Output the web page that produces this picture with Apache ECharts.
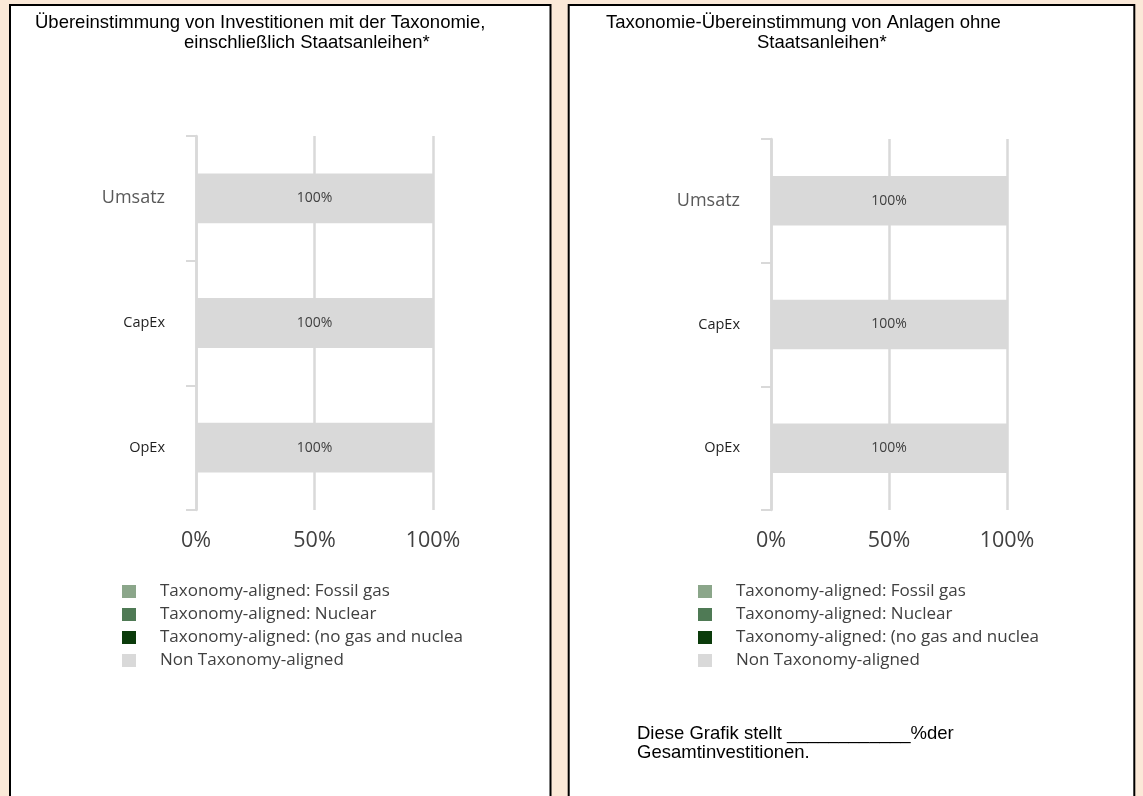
<!DOCTYPE html>
<html>
<head>
<meta charset="utf-8">
<script src="https://cdn.jsdelivr.net/npm/echarts@6/dist/echarts.min.js"></script>
<style>
html,body{margin:0;padding:0;background:#FBE9D8;}
#chart{width:1143px;height:796px;}
</style>
</head>
<body>
<div id="chart"></div>
<script>
// ---- data ----
const categories = ['Umsatz', 'CapEx', 'OpEx'];
const seriesNames = [
  'Taxonomy-aligned: Fossil gas',
  'Taxonomy-aligned: Nuclear',
  'Taxonomy-aligned: (no gas and nuclear)',
  'Non Taxonomy-aligned'
];
// chart 1: including sovereign bonds
const fossilGasIncl = [0, 0, 0];
const nuclearIncl = [0, 0, 0];
const otherAlignedIncl = [0, 0, 0];
const nonAlignedIncl = [100, 100, 100];
// chart 2: excluding sovereign bonds
const fossilGasExcl = [0, 0, 0];
const nuclearExcl = [0, 0, 0];
const otherAlignedExcl = [0, 0, 0];
const nonAlignedExcl = [100, 100, 100];
const xTickValues = [0, 50, 100];
const title1 = ['Übereinstimmung von Investitionen mit der Taxonomie,', 'einschließlich Staatsanleihen*'];
const title2 = ['Taxonomie-Übereinstimmung von Anlagen ohne', 'Staatsanleihen*'];
const footnote = ['Diese Grafik stellt ____________%der', 'Gesamtinvestitionen.'];

// ---- styles ----
const colors = ['#8BA68A', '#4F7A55', '#0B3B0B', '#D9D9D9'];
const gridCol = '#D9D9D9';
const FONT = '"Open Sans", sans-serif';
const ARIAL = '"Liberation Sans", Arial, sans-serif';

const chart = echarts.init(document.getElementById('chart'));

function makeX(gi) {
  return {
    type: 'value', gridIndex: gi, min: xTickValues[0], max: xTickValues[xTickValues.length - 1],
    interval: xTickValues[1] - xTickValues[0],
    axisLine: { show: false }, axisTick: { show: false },
    splitLine: { show: true, lineStyle: { color: gridCol, width: 2.5 } },
    axisLabel: { formatter: '{value}%', fontSize: 21.5, color: '#404040', fontFamily: FONT, margin: 20 }
  };
}
function makeY(gi) {
  return {
    type: 'category', gridIndex: gi, data: categories, inverse: true,
    axisLine: { show: true, lineStyle: { color: gridCol, width: 2.5 } },
    axisTick: { show: true, length: 10, lineStyle: { color: gridCol, width: 2 } },
    axisLabel: {
      margin: 31,
      formatter: function (v, i) { return i === 0 ? '{u|' + v + '}' : '{c|' + v + '}'; },
      rich: {
        u: { fontSize: 18, color: '#595959', fontFamily: FONT },
        c: { fontSize: 14.5, color: '#1f1f1f', fontFamily: FONT }
      }
    }
  };
}
function makeSeries(gi, arrays) {
  return arrays.map(function (arr, k) {
    return {
      name: seriesNames[k], type: 'bar', stack: 's' + gi, xAxisIndex: gi, yAxisIndex: gi,
      data: arr, barWidth: '40%',
      itemStyle: { color: colors[k] },
      label: k === 3 ? { show: true, position: 'inside', formatter: '{c}%', fontSize: 14, color: '#404040', fontFamily: FONT } : { show: false }
    };
  });
}
function makeLegend(left) {
  return {
    orient: 'vertical', left: left, top: 583, padding: 0, itemWidth: 14, itemHeight: 13, itemGap: 6,
    icon: 'rect', data: seriesNames, selectedMode: false,
    textStyle: { fontSize: 17, lineHeight: 17, color: '#404040', fontFamily: FONT,
      padding: [0, 0, 0, 19], width: 308, overflow: 'truncate', ellipsis: '' }
  };
}
function textLines(lines, xs, y0, gap) {
  return lines.map(function (t, i) {
    return { type: 'text', z: -5, style: { text: t, x: xs[i], y: y0 + i * gap, textAlign: 'left', textVerticalAlign: 'middle', fontSize: 18.5, fontFamily: ARIAL, fill: '#000' } };
  });
}

const option = {
  backgroundColor: '#FBE9D8',
  animation: false,
  grid: [
    { left: 196, top: 136, width: 237, height: 374 },
    { left: 771, top: 139, width: 236, height: 371 }
  ],
  xAxis: [makeX(0), makeX(1)],
  yAxis: [makeY(0), makeY(1)],
  legend: [makeLegend(122), makeLegend(698)],
  series: makeSeries(0, [fossilGasIncl, nuclearIncl, otherAlignedIncl, nonAlignedIncl])
    .concat(makeSeries(1, [fossilGasExcl, nuclearExcl, otherAlignedExcl, nonAlignedExcl])),
  graphic: [
    { type: 'rect', z: -10, shape: { x: 10, y: 5, width: 540.5, height: 900 }, style: { fill: '#fff', stroke: '#000', lineWidth: 2 } },
    { type: 'rect', z: -10, shape: { x: 568.7, y: 5, width: 565.6, height: 900 }, style: { fill: '#fff', stroke: '#000', lineWidth: 2 } }
  ].concat(
    textLines(title1, [35, 184], 23, 20),
    textLines(title2, [606, 757], 23, 20),
    textLines(footnote, [637, 637], 734, 19)
  )
};
chart.setOption(option);
</script>
</body>
</html>
